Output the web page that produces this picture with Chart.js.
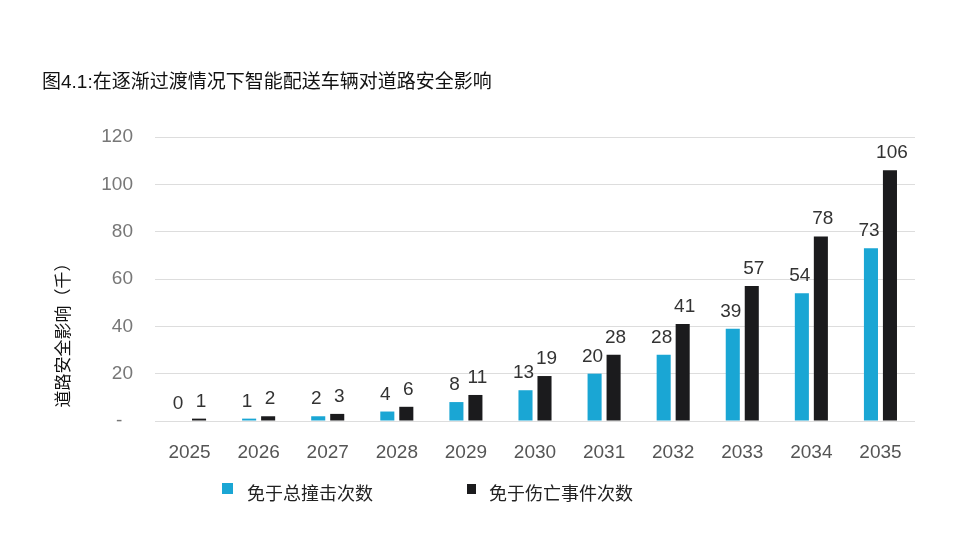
<!DOCTYPE html>
<html><head><meta charset="utf-8">
<script src="https://cdn.jsdelivr.net/npm/chart.js@4.4.1/dist/chart.umd.min.js"></script>
<style>
html,body{margin:0;padding:0;background:#fff;}
#wrap{position:relative;width:960px;height:540px;overflow:hidden;}
canvas{position:absolute;left:0;top:0;}
.t{position:absolute;font-family:"Liberation Sans","Noto Sans CJK SC",sans-serif;white-space:nowrap;}
#title{left:42px;top:66px;font-size:19px;color:#111;}
.lg{position:absolute;top:479px;font-family:"Liberation Sans","Noto Sans CJK SC",sans-serif;font-size:18px;color:#222;white-space:nowrap;}
.sw{position:absolute;width:10px;height:10px;}
</style></head>
<body><div id="wrap">
<canvas id="c" width="960" height="540"></canvas>
<div class="t" id="title">图4.1:在逐渐过渡情况下智能配送车辆对道路安全影响</div>
<div class="sw" style="left:222px;top:483px;width:11px;height:11px;background:#1aa6d4"></div>
<div class="lg" style="left:247px;">免于总撞击次数</div>
<div class="sw" style="left:467px;top:484px;width:9px;height:10px;background:#1b1b1d"></div>
<div class="lg" style="left:489px;">免于伤亡事件次数</div>
</div>
<script>
const years = ['2025','2026','2027','2028','2029','2030','2031','2032','2033','2034','2035'];
const collisions = [0,1,2,4,8,13,20,28,39,54,73];
const casualties = [1,2,3,6,11,19,28,41,57,78,106];
const seriesNames = ['免于总撞击次数','免于伤亡事件次数'];
const yTicks = [0,20,40,60,80,100,120];
const yTitle = '道路安全影响（千）';

const FONT = '"Liberation Sans","Noto Sans CJK SC",sans-serif';

const labelPlugin = {
  id:'vals',
  afterDatasetsDraw(chart){
    const ctx = chart.ctx;
    ctx.save();
    ctx.font = '19px ' + FONT;
    ctx.fillStyle = '#333';
    ctx.textAlign = 'center';
    ctx.textBaseline = 'alphabetic';
    chart.data.datasets.forEach((ds,i)=>{
      const meta = chart.getDatasetMeta(i);
      meta.data.forEach((bar,j)=>{
        const dx = i===0 ? -2 : 2;
        ctx.fillText(String(ds.data[j]), bar.x + dx, bar.y - 12);
      });
    });
    // y-axis title
    ctx.font = '17px "Noto Sans CJK SC",' + FONT;
    ctx.fillStyle = '#111';
    ctx.translate(63, 331);
    ctx.rotate(-Math.PI/2);
    ctx.textAlign = 'center';
    ctx.textBaseline = 'middle';
    ctx.fillText(yTitle, 0, 0);
    ctx.restore();
  }
};

new Chart(document.getElementById('c'), {
  type:'bar',
  data:{
    labels: years,
    datasets:[
      {label:seriesNames[0], data:collisions, backgroundColor:'#1aa6d4', categoryPercentage:0.55, barPercentage:0.74},
      {label:seriesNames[1], data:casualties, backgroundColor:'#1b1b1d', categoryPercentage:0.55, barPercentage:0.74}
    ]
  },
  options:{
    responsive:false,
    animation:false,
    layout:{padding:{left:0,right:45,top:137,bottom:0}},
    plugins:{legend:{display:false}, title:{display:false}, tooltip:{enabled:false}},
    scales:{
      x:{
        grid:{display:false},
        border:{display:false},
        ticks:{color:'#555', font:{family:FONT, size:19}, padding:12, maxRotation:0},
        afterFit(s){ s.height = 119; }
      },
      y:{
        min:0, max:120,
        afterBuildTicks(s){ s.ticks = yTicks.map(v=>({value:v})); },
        grid:{color:'#dddddd', lineWidth:1, drawTicks:false},
        border:{display:false},
        ticks:{color:'#777', font:{family:FONT, size:19}, padding:22,
          callback:(v)=> v===0 ? '-  ' : String(v)},
        afterFit(s){ s.width = 155; }
      }
    }
  },
  plugins:[labelPlugin]
});
</script>
</body></html>
